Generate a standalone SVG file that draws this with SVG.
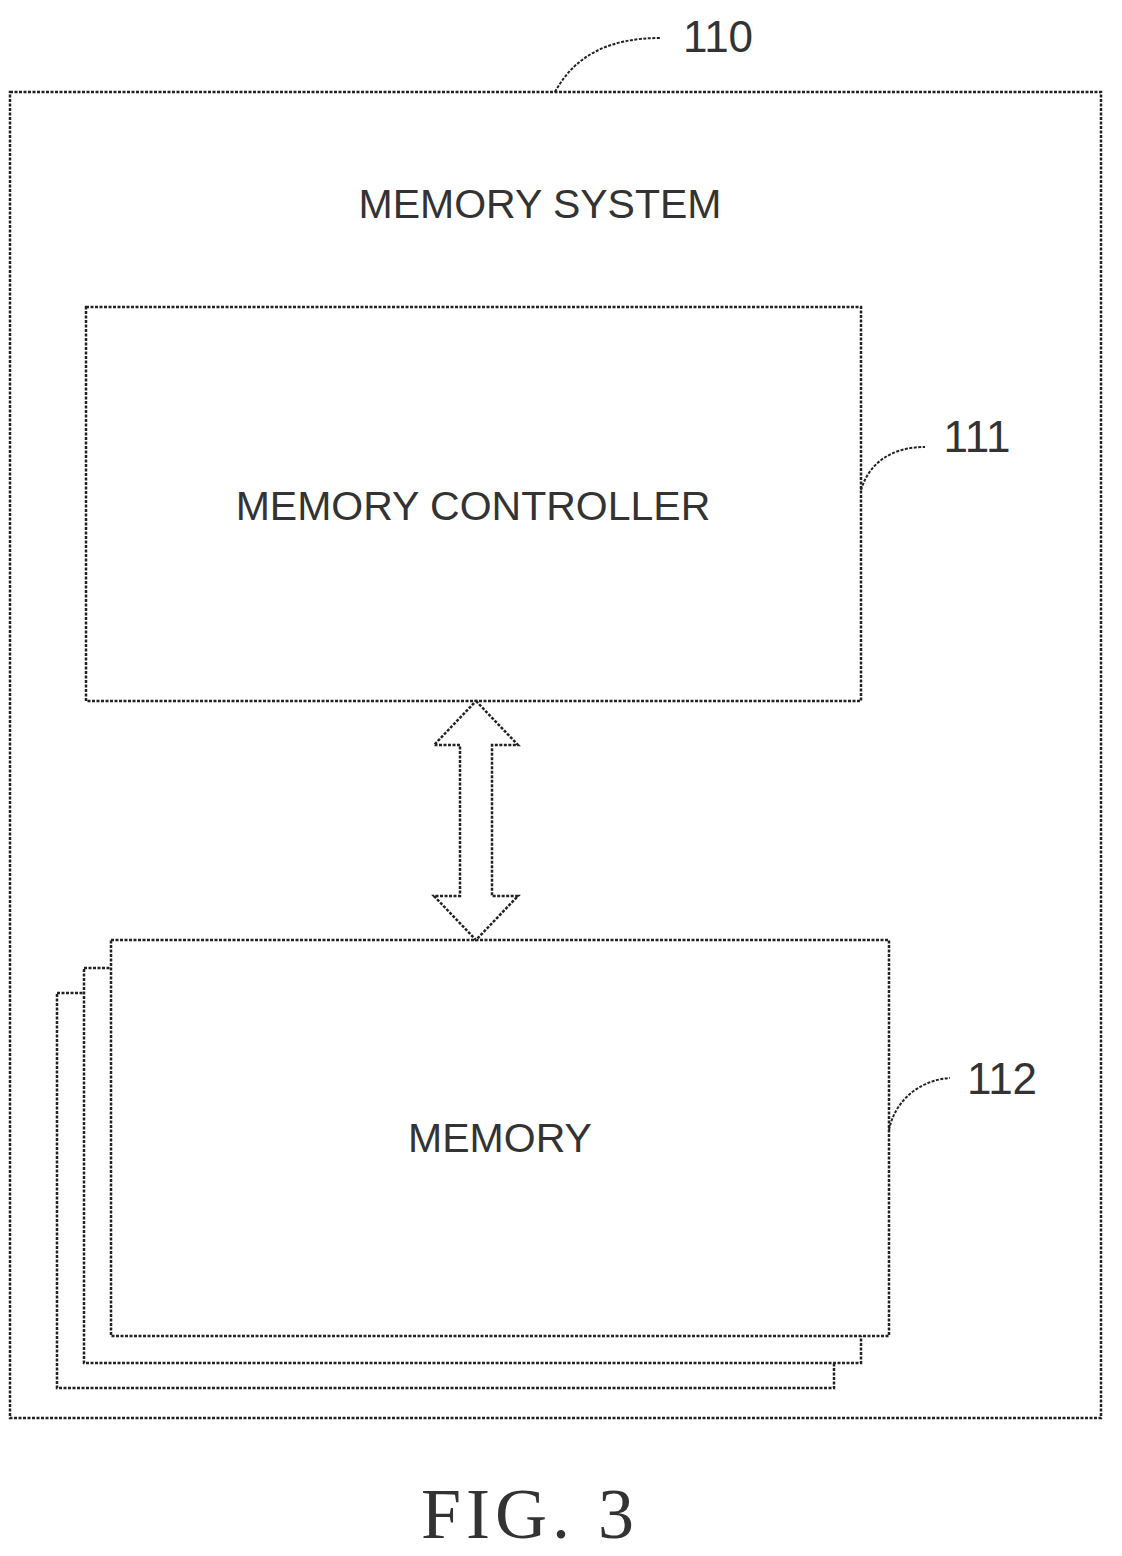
<svg xmlns="http://www.w3.org/2000/svg" width="1122" height="1556" viewBox="0 0 1122 1556">
<style>
.b{fill:#fff;stroke:#222;stroke-width:2.5;stroke-dasharray:3 1.5}
.t{font-family:"Liberation Sans",Arial,sans-serif;fill:#333;font-size:41px;text-anchor:middle}
.l{fill:none;stroke:#222;stroke-width:2;stroke-dasharray:3 1.5}
</style>
<rect width="1122" height="1556" fill="#fff"/>
<g id="n110"><rect class="b" x="10" y="92" width="1091" height="1326"/>
<text class="t" x="540" y="218">MEMORY SYSTEM</text></g>
<g id="n111"><rect class="b" x="86" y="307" width="775" height="394"/>
<text class="t" x="473" y="520">MEMORY CONTROLLER</text></g>
<g id="n112">
<rect class="b" x="57" y="993" width="777" height="395"/>
<rect class="b" x="84" y="968" width="777" height="395"/>
<rect class="b" x="111" y="940" width="778" height="396"/>
<text class="t" x="500" y="1152">MEMORY</text></g>
<g id="connectors">
<path class="b" d="M476 701 L518 745 L492 745 L492 896 L518 896 L476 940 L434 896 L460 896 L460 745 L434 745 Z"/>
<path class="l" d="M555 92 C575 55 610 38 660 38"/>
<path class="l" d="M861 490 C870 460 895 447 925 447"/>
<path class="l" d="M889 1130 C895 1100 920 1080 950 1078"/>
</g>
<g id="labels">
<text class="t" x="718" y="52" style="font-size:44px">110</text>
<text class="t" x="977" y="452" style="font-size:44px">111</text>
<text class="t" x="1002" y="1094" style="font-size:44px">112</text>
<text x="530" y="1538" style="font-family:'Liberation Serif',serif;font-size:72px;letter-spacing:5px;text-anchor:middle;fill:#333">FIG. 3</text>
</g>
</svg>
